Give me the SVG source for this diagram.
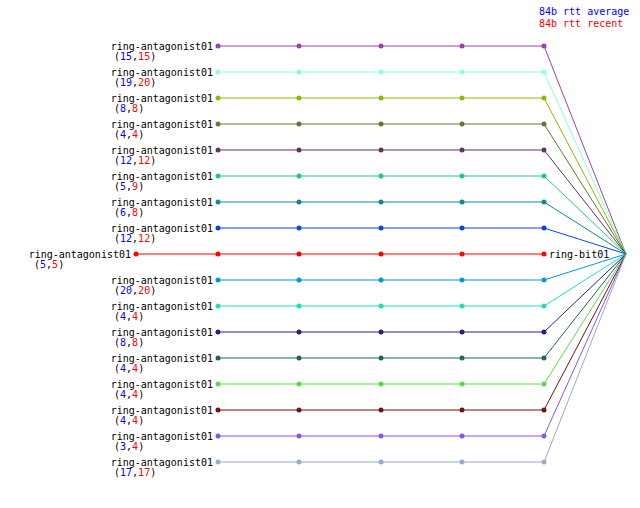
<svg xmlns="http://www.w3.org/2000/svg" width="640" height="508" viewBox="0 0 640 508">
<style>
text{font-family:"DejaVu Sans Mono","Liberation Mono",monospace;font-size:10px;fill:#000}
.a{fill:#0000ff}.r{fill:#ff0000}
.e{text-anchor:end}
line{stroke-width:1.2;fill:none}
.c{stroke-width:1}
</style>
<rect width="640" height="508" fill="#fff"/>
<g id="legend">
<text x="539" y="15" class="a">84b rtt average</text>
<text x="539" y="27" class="r">84b rtt recent</text>
</g>
<g id="connectors">
<line x1="218" y1="46" x2="544" y2="46" stroke="#9944aa"/><line class="c" x1="544" y1="46" x2="626" y2="254" stroke="#9944aa"/>
<line x1="218" y1="72" x2="544" y2="72" stroke="#88ffdd"/><line class="c" x1="544" y1="72" x2="626" y2="254" stroke="#88ffdd"/>
<line x1="218" y1="98" x2="544" y2="98" stroke="#88bb00"/><line class="c" x1="544" y1="98" x2="626" y2="254" stroke="#88bb00"/>
<line x1="218" y1="124" x2="544" y2="124" stroke="#667733"/><line class="c" x1="544" y1="124" x2="626" y2="254" stroke="#667733"/>
<line x1="218" y1="150" x2="544" y2="150" stroke="#663366"/><line class="c" x1="544" y1="150" x2="626" y2="254" stroke="#663366"/>
<line x1="218" y1="176" x2="544" y2="176" stroke="#22cc77"/><line class="c" x1="544" y1="176" x2="626" y2="254" stroke="#22cc77"/>
<line x1="218" y1="202" x2="544" y2="202" stroke="#118899"/><line class="c" x1="544" y1="202" x2="626" y2="254" stroke="#118899"/>
<line x1="218" y1="228" x2="544" y2="228" stroke="#1144dd"/><line class="c" x1="544" y1="228" x2="626" y2="254" stroke="#1144dd"/>
<line x1="136" y1="254" x2="544" y2="254" stroke="#ff0000"/>
<line x1="218" y1="280" x2="544" y2="280" stroke="#0099dd"/><line class="c" x1="544" y1="280" x2="626" y2="254" stroke="#0099dd"/>
<line x1="218" y1="306" x2="544" y2="306" stroke="#22ddbb"/><line class="c" x1="544" y1="306" x2="626" y2="254" stroke="#22ddbb"/>
<line x1="218" y1="332" x2="544" y2="332" stroke="#222288"/><line class="c" x1="544" y1="332" x2="626" y2="254" stroke="#222288"/>
<line x1="218" y1="358" x2="544" y2="358" stroke="#226655"/><line class="c" x1="544" y1="358" x2="626" y2="254" stroke="#226655"/>
<line x1="218" y1="384" x2="544" y2="384" stroke="#55dd44"/><line class="c" x1="544" y1="384" x2="626" y2="254" stroke="#55dd44"/>
<line x1="218" y1="410" x2="544" y2="410" stroke="#771111"/><line class="c" x1="544" y1="410" x2="626" y2="254" stroke="#771111"/>
<line x1="218" y1="436" x2="544" y2="436" stroke="#8855ee"/><line class="c" x1="544" y1="436" x2="626" y2="254" stroke="#8855ee"/>
<line x1="218" y1="462" x2="544" y2="462" stroke="#99aacc"/><line class="c" x1="544" y1="462" x2="626" y2="254" stroke="#99aacc"/>
</g>
<g id="n1" fill="#9944aa"><text x="213" y="50" class="e">ring-antagonist01</text><text x="114" y="60">(<tspan class="a">15</tspan>,<tspan class="r">15</tspan>)</text><circle cx="218" cy="46" r="2.5"/><circle cx="299" cy="46" r="2.5"/><circle cx="381" cy="46" r="2.5"/><circle cx="462" cy="46" r="2.5"/><circle cx="544" cy="46" r="2.5"/></g>
<g id="n2" fill="#88ffdd"><text x="213" y="76" class="e">ring-antagonist01</text><text x="114" y="86">(<tspan class="a">19</tspan>,<tspan class="r">20</tspan>)</text><circle cx="218" cy="72" r="2.5"/><circle cx="299" cy="72" r="2.5"/><circle cx="381" cy="72" r="2.5"/><circle cx="462" cy="72" r="2.5"/><circle cx="544" cy="72" r="2.5"/></g>
<g id="n3" fill="#88bb00"><text x="213" y="102" class="e">ring-antagonist01</text><text x="114" y="112">(<tspan class="a">8</tspan>,<tspan class="r">8</tspan>)</text><circle cx="218" cy="98" r="2.5"/><circle cx="299" cy="98" r="2.5"/><circle cx="381" cy="98" r="2.5"/><circle cx="462" cy="98" r="2.5"/><circle cx="544" cy="98" r="2.5"/></g>
<g id="n4" fill="#667733"><text x="213" y="128" class="e">ring-antagonist01</text><text x="114" y="138">(<tspan class="a">4</tspan>,<tspan class="r">4</tspan>)</text><circle cx="218" cy="124" r="2.5"/><circle cx="299" cy="124" r="2.5"/><circle cx="381" cy="124" r="2.5"/><circle cx="462" cy="124" r="2.5"/><circle cx="544" cy="124" r="2.5"/></g>
<g id="n5" fill="#663366"><text x="213" y="154" class="e">ring-antagonist01</text><text x="114" y="164">(<tspan class="a">12</tspan>,<tspan class="r">12</tspan>)</text><circle cx="218" cy="150" r="2.5"/><circle cx="299" cy="150" r="2.5"/><circle cx="381" cy="150" r="2.5"/><circle cx="462" cy="150" r="2.5"/><circle cx="544" cy="150" r="2.5"/></g>
<g id="n6" fill="#22cc77"><text x="213" y="180" class="e">ring-antagonist01</text><text x="114" y="190">(<tspan class="a">5</tspan>,<tspan class="r">9</tspan>)</text><circle cx="218" cy="176" r="2.5"/><circle cx="299" cy="176" r="2.5"/><circle cx="381" cy="176" r="2.5"/><circle cx="462" cy="176" r="2.5"/><circle cx="544" cy="176" r="2.5"/></g>
<g id="n7" fill="#118899"><text x="213" y="206" class="e">ring-antagonist01</text><text x="114" y="216">(<tspan class="a">6</tspan>,<tspan class="r">8</tspan>)</text><circle cx="218" cy="202" r="2.5"/><circle cx="299" cy="202" r="2.5"/><circle cx="381" cy="202" r="2.5"/><circle cx="462" cy="202" r="2.5"/><circle cx="544" cy="202" r="2.5"/></g>
<g id="n8" fill="#1144dd"><text x="213" y="232" class="e">ring-antagonist01</text><text x="114" y="242">(<tspan class="a">12</tspan>,<tspan class="r">12</tspan>)</text><circle cx="218" cy="228" r="2.5"/><circle cx="299" cy="228" r="2.5"/><circle cx="381" cy="228" r="2.5"/><circle cx="462" cy="228" r="2.5"/><circle cx="544" cy="228" r="2.5"/></g>
<g id="n9" fill="#ff0000"><text x="131" y="258" class="e">ring-antagonist01</text><text x="34" y="268">(<tspan class="a">5</tspan>,<tspan class="r">5</tspan>)</text><circle cx="136" cy="254" r="2.5"/><circle cx="218" cy="254" r="2.5"/><circle cx="299" cy="254" r="2.5"/><circle cx="381" cy="254" r="2.5"/><circle cx="462" cy="254" r="2.5"/><circle cx="544" cy="254" r="2.5"/></g>
<g id="n10" fill="#0099dd"><text x="213" y="284" class="e">ring-antagonist01</text><text x="114" y="294">(<tspan class="a">20</tspan>,<tspan class="r">20</tspan>)</text><circle cx="218" cy="280" r="2.5"/><circle cx="299" cy="280" r="2.5"/><circle cx="381" cy="280" r="2.5"/><circle cx="462" cy="280" r="2.5"/><circle cx="544" cy="280" r="2.5"/></g>
<g id="n11" fill="#22ddbb"><text x="213" y="310" class="e">ring-antagonist01</text><text x="114" y="320">(<tspan class="a">4</tspan>,<tspan class="r">4</tspan>)</text><circle cx="218" cy="306" r="2.5"/><circle cx="299" cy="306" r="2.5"/><circle cx="381" cy="306" r="2.5"/><circle cx="462" cy="306" r="2.5"/><circle cx="544" cy="306" r="2.5"/></g>
<g id="n12" fill="#222288"><text x="213" y="336" class="e">ring-antagonist01</text><text x="114" y="346">(<tspan class="a">8</tspan>,<tspan class="r">8</tspan>)</text><circle cx="218" cy="332" r="2.5"/><circle cx="299" cy="332" r="2.5"/><circle cx="381" cy="332" r="2.5"/><circle cx="462" cy="332" r="2.5"/><circle cx="544" cy="332" r="2.5"/></g>
<g id="n13" fill="#226655"><text x="213" y="362" class="e">ring-antagonist01</text><text x="114" y="372">(<tspan class="a">4</tspan>,<tspan class="r">4</tspan>)</text><circle cx="218" cy="358" r="2.5"/><circle cx="299" cy="358" r="2.5"/><circle cx="381" cy="358" r="2.5"/><circle cx="462" cy="358" r="2.5"/><circle cx="544" cy="358" r="2.5"/></g>
<g id="n14" fill="#55dd44"><text x="213" y="388" class="e">ring-antagonist01</text><text x="114" y="398">(<tspan class="a">4</tspan>,<tspan class="r">4</tspan>)</text><circle cx="218" cy="384" r="2.5"/><circle cx="299" cy="384" r="2.5"/><circle cx="381" cy="384" r="2.5"/><circle cx="462" cy="384" r="2.5"/><circle cx="544" cy="384" r="2.5"/></g>
<g id="n15" fill="#771111"><text x="213" y="414" class="e">ring-antagonist01</text><text x="114" y="424">(<tspan class="a">4</tspan>,<tspan class="r">4</tspan>)</text><circle cx="218" cy="410" r="2.5"/><circle cx="299" cy="410" r="2.5"/><circle cx="381" cy="410" r="2.5"/><circle cx="462" cy="410" r="2.5"/><circle cx="544" cy="410" r="2.5"/></g>
<g id="n16" fill="#8855ee"><text x="213" y="440" class="e">ring-antagonist01</text><text x="114" y="450">(<tspan class="a">3</tspan>,<tspan class="r">4</tspan>)</text><circle cx="218" cy="436" r="2.5"/><circle cx="299" cy="436" r="2.5"/><circle cx="381" cy="436" r="2.5"/><circle cx="462" cy="436" r="2.5"/><circle cx="544" cy="436" r="2.5"/></g>
<g id="n17" fill="#99aacc"><text x="213" y="466" class="e">ring-antagonist01</text><text x="114" y="476">(<tspan class="a">17</tspan>,<tspan class="r">17</tspan>)</text><circle cx="218" cy="462" r="2.5"/><circle cx="299" cy="462" r="2.5"/><circle cx="381" cy="462" r="2.5"/><circle cx="462" cy="462" r="2.5"/><circle cx="544" cy="462" r="2.5"/></g>
<g id="ring-bit01"><text x="549" y="258">ring-bit01</text></g>
</svg>
